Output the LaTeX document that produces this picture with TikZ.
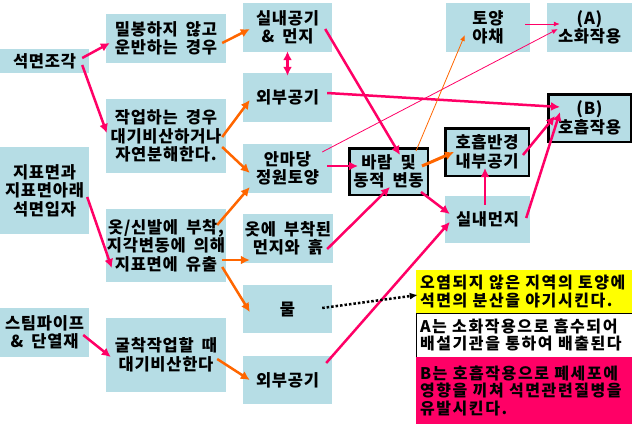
\documentclass[tikz,border=0pt]{standalone}
\usepackage{fontspec}
\setmainfont[WordSpace=1.8,LetterSpace=4.5]{Noto Sans CJK KR}
\newfontfamily\notefont[WordSpace=1.8,LetterSpace=10]{Noto Sans CJK KR}
\usetikzlibrary{arrows.meta}

\definecolor{boxblue}{RGB}{182,221,229}
\definecolor{arrowpink}{RGB}{255,0,102}
\definecolor{arroworange}{RGB}{255,102,0}
\definecolor{noteyellow}{RGB}{255,255,0}

\begin{document}
\begin{tikzpicture}[x=1pt,y=-1pt,
    box/.style={fill=boxblue,inner sep=0pt,align=center,
                font=\fontsize{16.5}{18.5}\selectfont\bfseries},
    narrowbox/.style={box,minimum width=89pt,minimum height=49pt},
    widebox/.style={box,minimum width=120pt,minimum height=74pt},
    thickbox/.style={box,draw=black,line width=2.5pt},
    notebox/.style={inner sep=0pt,minimum width=216pt,text width=208pt,
                    align=left,font=\notefont\fontsize{16}{17.5}\selectfont\bfseries},
    pinkarrow/.style={draw=arrowpink,line width=2.5pt,
                      -{Latex[length=9pt,width=9pt]}},
    orangearrow/.style={draw=arroworange,line width=2.5pt,
                        -{Latex[length=9pt,width=9pt]}},
    thinarrow/.style={line width=0.8pt,-{Latex[length=6pt,width=5pt]}}]

  \useasboundingbox (0,0) rectangle (632,424);

  % Draw source boxes
  \node[box,minimum width=89pt,minimum height=24pt] (asbestos) at (44.5,61) {석면조각};
  \node[box,minimum width=89pt,minimum height=87pt] (surface) at (44.5,190.5)
        {지표면과\\지표면아래\\석면입자};
  \node[narrowbox] (steampipe) at (44.5,332.5) {스팀파이프\\\& 단열재};

  % Draw cause boxes
  \node[box,minimum width=120pt,minimum height=49pt] (unsealed) at (166,38.5)
        {밀봉하지 않고\\운반하는 경우};
  \node[widebox] (working) at (166,136) {작업하는 경우\\대기비산하거나\\자연분해한다.};
  \node[widebox,minimum height=73pt] (clothes) at (166,245.5)
        {옷/신발에 부착,\\지각변동에 의해\\지표면에 유출};
  \node[widebox] (digging) at (166,355) {굴착작업할 때\\대기비산한다};

  % Draw medium boxes
  \node[narrowbox] (indoorair) at (287.5,27.5) {실내공기\\\& 먼지};
  \node[narrowbox] (outdoortop) at (287.5,97.5) {외부공기};
  \node[narrowbox] (yard) at (287.5,168.5) {안마당\\정원토양};
  \node[narrowbox,minimum width=90pt] (clothesdust) at (288,238.5) {옷에 부착된\\먼지와 흙};
  \node[narrowbox,minimum height=48pt] (water) at (287.5,309) {물};
  \node[narrowbox,minimum height=48pt] (outdoorbottom) at (287.5,380) {외부공기};

  % Draw exposure boxes
  \node[thickbox,minimum width=78.5pt,minimum height=46.5pt] (wind) at (388.5,171.5)
        {바람 및\\동적 변동};
  \node[narrowbox,minimum width=84pt] (soilveg) at (488,27.5) {토양\\야채};
  \node[narrowbox,minimum width=85pt] (digestion) at (589.5,27.5) {(A)\\소화작용};
  \node[thickbox,minimum width=82.5pt,minimum height=47.5pt] (respiration) at (589.5,118)
        {(B)\\호흡작용};
  \node[thickbox,minimum width=83.5pt,minimum height=47.5pt] (breathzone) at (487,152)
        {호흡반경\\내부공기};
  \node[narrowbox,minimum width=85pt,minimum height=47pt] (indoordust) at (487.5,219.5)
        {실내먼지};

  % Draw notes
  \node[notebox,fill=noteyellow,minimum height=43pt] (notesoil) at (524,291.5)
        {오염되지 않은 지역의 토양에\\석면의 분산을 야기시킨다.};
  \node[notebox,fill=white,draw=black,line width=0.6pt,minimum height=44pt] (notea)
        at (524,335) {A는 소화작용으로 흡수되어\\배설기관을 통하여 배출된다};
  \node[notebox,fill=arrowpink,minimum height=67pt] (noteb) at (524,390.5)
        {B는 호흡작용으로 폐세포에\\영향을 끼쳐 석면관련질병을\\유발시킨다.};

  % Draw source arrows
  \draw[pinkarrow] ([shift={(-7,-3)}]asbestos.east) -- ([shift={(4,4.5)}]unsealed.west);
  \draw[pinkarrow] ([shift={(-7,4)}]asbestos.east) -- ([shift={(1,-3)}]working.west);
  \draw[pinkarrow] ([shift={(-2,6.5)}]surface.east) -- ([shift={(6,22.5)}]clothes.west);
  \draw[pinkarrow] ([shift={(-6,2.5)}]steampipe.east) -- ([shift={(5,2)}]digging.west);

  % Draw cause arrows
  \draw[orangearrow] ([shift={(-4,4.5)}]unsealed.east) -- ([shift={(7,1.5)}]indoorair.west);
  \draw[orangearrow] ([shift={(-4,1)}]working.east) -- ([shift={(7,2.5)}]outdoortop.west);
  \draw[orangearrow] ([shift={(-4,11)}]working.east) -- ([shift={(7,4.5)}]yard.west);
  \draw[orangearrow] ([shift={(-9,-20.5)}]clothes.east) -- ([shift={(7,18.5)}]yard.west);
  \draw[orangearrow] ([shift={(-4,14.5)}]clothes.east) -- ([shift={(7,21.5)}]clothesdust.west);
  \draw[orangearrow] ([shift={(-4,21.5)}]clothes.east) -- ([shift={(7,3)}]water.west);
  \draw[orangearrow] ([shift={(-9,4)}]digging.east) -- ([shift={(7,0)}]outdoorbottom.west);

  % Draw air exchange
  \draw[pinkarrow,{Latex[length=9pt,width=9pt]}-{Latex[length=9pt,width=9pt]}]
        ([shift={(0,-1)}]indoorair.south) -- ([shift={(0,3)}]outdoortop.north);

  % Draw medium arrows
  \draw[pinkarrow] ([shift={(-7,1.5)}]indoorair.east) -- ([shift={(11.5,8)}]wind.north);
  \draw[pinkarrow] ([shift={(-5,-4.5)}]outdoortop.east) -- ([shift={(13,-11)}]respiration.west);
  \draw[thinarrow,arrowpink] ([shift={(-10,-16.5)}]yard.east) -- ([shift={(11,1.5)}]digestion.west);
  \draw[pinkarrow] ([shift={(-5,-2.5)}]yard.east) -- ([shift={(10,-5.5)}]wind.west);
  \draw[pinkarrow] ([shift={(-6,10.5)}]clothesdust.east) -- ([shift={(1.5,-9)}]wind.south);
  \draw[pinkarrow] ([shift={(-6,-17)}]outdoorbottom.east) -- ([shift={(5,2.5)}]indoordust.west);
  \draw[dotted,line width=2.5pt,-{Latex[length=8pt,width=7pt]}]
        ([shift={(-10,-1)}]water.east) -- ([shift={(2,3.5)}]notesoil.west);

  % Draw exposure arrows
  \draw[thinarrow,arroworange] ([shift={(-13,-20.5)}]wind.east) -- ([shift={(19,7.5)}]soilveg.west);
  \draw[thinarrow,arrowpink] ([shift={(-5,-3.5)}]soilveg.east) -- ([shift={(13,-3.5)}]digestion.west);
  \draw[orangearrow,line width=3pt] ([shift={(-7,-5.5)}]wind.east) -- ([shift={(10,0)}]breathzone.west);
  \draw[pinkarrow] ([shift={(-8,20.5)}]wind.east) -- ([shift={(5,-5.5)}]indoordust.west);
  \draw[pinkarrow] ([shift={(-2.5,9)}]indoordust.north) -- ([shift={(-2,-9)}]breathzone.south);
  \draw[pinkarrow] ([shift={(-7,3)}]breathzone.east) -- ([shift={(8,-2)}]respiration.west);
  \draw[pinkarrow] ([shift={(-4,-1.5)}]indoordust.east) -- ([shift={(13,-6)}]respiration.west);
\end{tikzpicture}
\end{document}
